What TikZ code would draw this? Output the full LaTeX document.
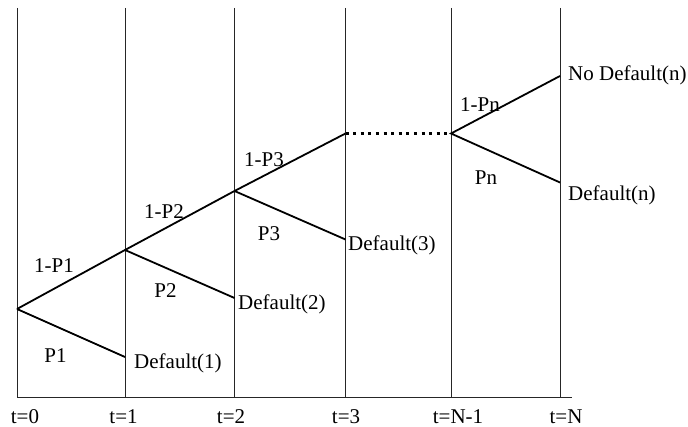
\documentclass[tikz,border=0pt]{standalone}
\usepackage{fontspec}
\setmainfont{Liberation Serif}
\usetikzlibrary{positioning}

\tikzset{
  grid line/.style={line width=1pt,black!85},
  branch/.style={line width=1.8pt},
  lbl/.style={inner sep=0pt},
  outcome/.style={inner sep=0pt,anchor=west}
}

\begin{document}
\begin{tikzpicture}[x=1pt,y=1pt,every node/.style={font=\fontsize{21}{24}\selectfont}]
  \useasboundingbox (0,0) rectangle (688,427);
  % time axis
  \coordinate (axisend) at (572,29);
  \foreach \i/\x/\lx/\t in {0/17/25/t=0,1/125/123.5/t=1,2/234.5/231/t=2,3/345.5/346/t=3,4/451/458/t=N-1,5/560/566/t=N}{
    \coordinate (top\i) at (\x,419);
    \coordinate (bot\i) at (\x,29);
    \draw[grid line] (top\i) -- (bot\i);
    \node[lbl] (tl\i) at (\lx,10.5) {\t};
  }
  \draw[grid line] (bot0) -- (axisend);
  % tree
  \coordinate (r0) at (17,118);
  \coordinate (n1) at (125,177);
  \coordinate (d1) at (125,70);
  \coordinate (n2) at (234.5,236);
  \coordinate (d2) at (234.5,129);
  \coordinate (n3) at (345.5,293.5);
  \coordinate (d3) at (345.5,187.5);
  \coordinate (nN) at (451,293.5);
  \coordinate (uN) at (560,351);
  \coordinate (dN) at (560,244.5);
  \draw[branch] (r0) -- (n1) -- (n2) -- (n3);
  \draw[branch] (r0) -- (d1);
  \draw[branch] (n1) -- (d2);
  \draw[branch] (n2) -- (d3);
  \draw[branch,line width=2.4pt,dash pattern=on 3pt off 4.6pt] (n3) -- (nN);
  \draw[branch] (uN) -- (nN) -- (dN);
  % probabilities
  \node[lbl] (q1) at (54,161) {1-P1};
  \node[lbl] (p1) at (55.5,71) {P1};
  \node[lbl] (q2) at (164,215) {1-P2};
  \node[lbl] (p2) at (165.5,136) {P2};
  \node[lbl] (q3) at (264,267) {1-P3};
  \node[lbl] (p3) at (269,193) {P3};
  \node[lbl] (qn) at (480,322) {1-Pn};
  \node[lbl] (pn) at (486,249) {Pn};
  % outcomes
  \node[outcome] (o1) at (134,64) {Default(1)};
  \node[outcome] (o2) at (238,123) {Default(2)};
  \node[outcome] (o3) at (348,182) {Default(3)};
  \node[outcome] (on) at (568,232) {Default(n)};
  \node[outcome] (nd) at (568,352) {No Default(n)};
\end{tikzpicture}
\end{document}
